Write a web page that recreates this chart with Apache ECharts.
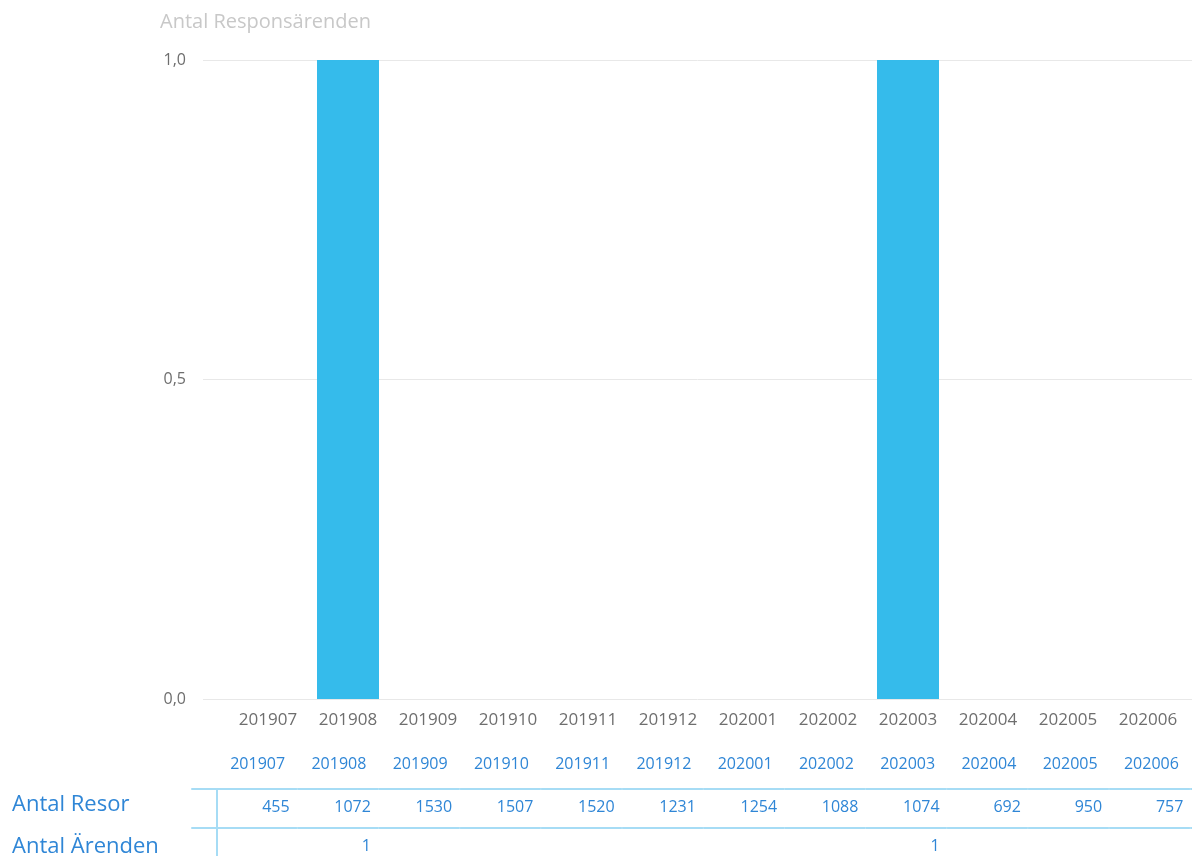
<!DOCTYPE html>
<html><head><meta charset="utf-8">
<script src="https://cdn.jsdelivr.net/npm/echarts@6/dist/echarts.min.js"></script>
<style>html,body{margin:0;padding:0;background:#fff}#c{width:1192px;height:856px}</style>
</head><body><div id="c"></div>
<script>
const months = ['201907','201908','201909','201910','201911','201912','202001','202002','202003','202004','202005','202006'];
const responsArenden = [null,1,null,null,null,null,null,null,1,null,null,null];
const antalResor = [455,1072,1530,1507,1520,1231,1254,1088,1074,692,950,757];
const antalArenden = [null,1,null,null,null,null,null,null,1,null,null,null];
const yTicks = [0, 0.5, 1];

const F = '"Open Sans", "Noto Sans", sans-serif';
const BLUE = '#2f86d6';
const GRAY = '#6e6e6e';
const LINE = '#a6dcf5';
const noAxis = {show:false};

const chart = echarts.init(document.getElementById('c'));
chart.setOption({
  animation:false,
  textStyle:{fontFamily:F},
  title:[
    {text:'Antal Responsärenden', left:160, top:12, padding:0, textStyle:{color:'#c8c8c8', fontSize:20, fontWeight:'normal', fontFamily:F}},
    {text:'Antal Resor', left:12, top:794, padding:0, textStyle:{color:BLUE, fontSize:22, fontWeight:'normal', fontFamily:F}},
    {text:'Antal Ärenden', left:12, top:836, padding:0, textStyle:{color:BLUE, fontSize:22, fontWeight:'normal', fontFamily:F}}
  ],
  grid:[
    {left:203, right:0, top:60, bottom:157},
    {left:228, right:4, top:60, bottom:157},
    {left:217, right:0, top:789, height:39},
    {left:217, right:0, top:828, height:28},
    {left:192, width:24, top:789, height:39}
  ],
  xAxis:[
    {gridIndex:0, type:'value', min:0, max:1, show:false},
    {gridIndex:1, type:'category', data:months, axisLine:noAxis, axisTick:noAxis,
     axisLabel:{interval:0, color:GRAY, fontSize:17, margin:13, fontFamily:F}},
    {gridIndex:2, type:'category', position:'top', data:months,
     axisLine:{show:true, onZero:false, lineStyle:{color:LINE, width:2, type:[79.5,1.67]}}, axisTick:noAxis,
     axisLabel:{interval:0, color:BLUE, fontSize:16, margin:17, fontFamily:F}},
    {gridIndex:2, type:'category', position:'top', data:months, axisLine:{show:false, onZero:false}, axisTick:noAxis,
     axisLabel:{inside:true, interval:0, margin:10,
       formatter:(v,i)=> antalResor[i]==null ? '' : '{v|'+antalResor[i]+'}',
       rich:{v:{width:64, align:'right', color:BLUE, fontSize:16, fontFamily:F}}}},
    {gridIndex:3, type:'category', position:'top', data:months,
     axisLine:{show:true, onZero:false, lineStyle:{color:LINE, width:2, type:[79.5,1.67]}}, axisTick:noAxis,
     axisLabel:{inside:true, interval:0, margin:10,
       formatter:(v,i)=> antalArenden[i]==null ? '' : '{v|'+antalArenden[i]+'}',
       rich:{v:{width:64, align:'right', color:BLUE, fontSize:16, fontFamily:F}}}},
    {gridIndex:4, type:'value', min:0, max:1, position:'top', axisLine:{show:true, onZero:false, lineStyle:{color:LINE, width:2}}, axisTick:noAxis, axisLabel:noAxis, splitLine:noAxis},
    {gridIndex:4, type:'value', min:0, max:1, position:'bottom', axisLine:{show:true, onZero:false, lineStyle:{color:LINE, width:2}}, axisTick:noAxis, axisLabel:noAxis, splitLine:noAxis}
  ],
  yAxis:[
    {gridIndex:0, type:'value', min:yTicks[0], max:yTicks[yTicks.length-1], interval:yTicks[1]-yTicks[0],
     axisLine:noAxis, axisTick:noAxis,
     splitLine:{show:true, lineStyle:{color:'#e8e8e8', width:1}},
     axisLabel:{color:GRAY, fontSize:16, margin:17, fontFamily:F, formatter:v=>v.toFixed(1).replace('.',',')}},
    {gridIndex:1, type:'value', min:0, max:1, show:false},
    {gridIndex:2, type:'value', min:0, max:1, axisLine:{show:true, onZero:false, lineStyle:{color:LINE, width:2}}, axisTick:noAxis, axisLabel:noAxis, splitLine:noAxis},
    {gridIndex:3, type:'value', min:0, max:1, axisLine:{show:true, onZero:false, lineStyle:{color:LINE, width:2}}, axisTick:noAxis, axisLabel:noAxis, splitLine:noAxis},
    {gridIndex:4, type:'value', min:0, max:1, show:false}
  ],
  series:[
    {type:'bar', xAxisIndex:1, yAxisIndex:1, data:responsArenden, barWidth:62, itemStyle:{color:'#35bbeb'}}
  ]
});
</script></body></html>
